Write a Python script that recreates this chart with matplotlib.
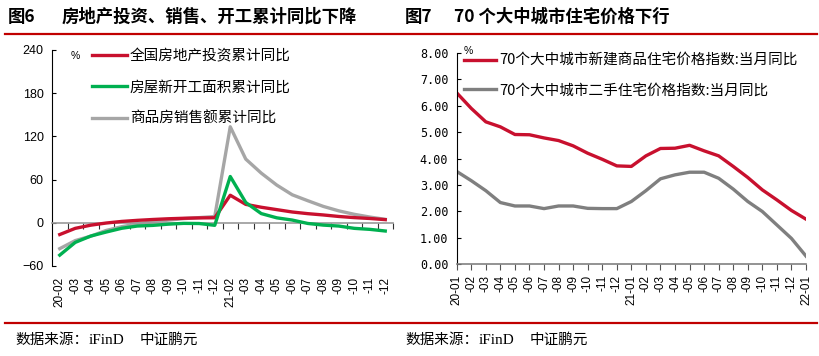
import matplotlib.pyplot as plt
from matplotlib.lines import Line2D

plt.rcParams['font.family'] = ['Liberation Sans', 'Noto Sans CJK SC']
CJK = ['Noto Sans CJK SC', 'DejaVu Sans']

# Figure 6: cumulative YoY, %
months_6 = ["20-02", "-03", "-04", "-05", "-06", "-07", "-08", "-09", "-10", "-11", "-12",
            "21-02", "-03", "-04", "-05", "-06", "-07", "-08", "-09", "-10", "-11", "-12"]
invest = [-16.3, -7.7, -3.3, -0.3, 1.9, 3.4, 4.6, 5.6, 6.3, 6.8, 7.0,
          38.3, 25.6, 21.6, 18.3, 15.0, 12.7, 10.9, 8.8, 7.2, 6.0, 4.4]
new_starts = [-44.9, -27.2, -18.4, -12.8, -7.6, -4.5, -3.6, -1.9, -0.8, -1.0, -3.5,
              64.3, 28.2, 12.8, 6.9, 3.8, -0.9, -3.2, -4.5, -7.7, -9.1, -11.4]
sales = [-35.9, -24.7, -18.6, -10.6, -5.4, -1.6, 1.6, 3.7, 5.8, 7.2, 8.7,
         133.4, 88.5, 69.0, 52.4, 38.9, 30.7, 22.8, 16.6, 11.8, 8.0, 4.8]

# Figure 7: 70-city price index YoY, %
months_7 = ["20-01", "-02", "-03", "-04", "-05", "-06", "-07", "-08", "-09", "-10", "-11", "-12",
            "21-01", "-02", "-03", "-04", "-05", "-06", "-07", "-08", "-09", "-10", "-11", "-12",
            "22-01"]
new_home = [6.49, 5.9, 5.39, 5.2, 4.91, 4.9, 4.78, 4.68, 4.48, 4.2, 3.97, 3.72,
            3.7, 4.1, 4.38, 4.39, 4.5, 4.29, 4.1, 3.7, 3.28, 2.81, 2.43, 2.03, 1.7]
second_hand = [3.51, 3.16, 2.78, 2.33, 2.2, 2.2, 2.1, 2.2, 2.2, 2.11, 2.1, 2.1,
               2.37, 2.78, 3.23, 3.38, 3.48, 3.48, 3.25, 2.84, 2.37, 1.99, 1.48, 0.97, 0.3]

RED = "#C8102E"
GREEN = "#00B050"
LGRAY = "#A6A6A6"
DGRAY = "#7F7F7F"

W, H = 819, 356
fig = plt.figure(figsize=(W / 100, H / 100), dpi=100)


def box(x0, y0, x1, y1):
    return [x0 / W, 1 - y1 / H, (x1 - x0) / W, (y1 - y0) / H]


# titles and separators
fig.text(8 / W, 1 - 17 / H, "图6", fontsize=12.5, fontweight="bold", family=CJK, va="center")
fig.text(62 / W, 1 - 17 / H, "房地产投资、销售、开工累计同比下降", fontsize=12.5,
         fontweight="bold", family=CJK, va="center")
fig.text(405 / W, 1 - 17 / H, "图7", fontsize=12.5, fontweight="bold", family=CJK, va="center")
fig.text(454 / W, 1 - 17 / H, "70 个大中城市住宅价格下行", fontsize=12.5,
         fontweight="bold", family=CJK, va="center")
for yy in (34, 323):
    fig.add_artist(Line2D([5 / W, 817 / W], [1 - yy / H, 1 - yy / H],
                          color="#C00000", lw=1.6))
for x0 in (15, 405):
    fig.text(x0 / W, 1 - 340 / H, "数据来源：", fontsize=10.5, family=CJK, va="center")
    fig.text((x0 + 74) / W, 1 - 340 / H, "iFinD", fontsize=11, family="Liberation Serif",
             va="center")
    fig.text((x0 + 125) / W, 1 - 340 / H, "中证鹏元", fontsize=10.5, family=CJK, va="center")

# ---- left chart ----
ax1 = fig.add_axes(box(52, 50, 393, 266))
x6 = range(len(months_6))
ax1.plot(x6, invest, color=RED, lw=2.4, label="全国房地产投资累计同比", zorder=3)
ax1.plot(x6, new_starts, color=GREEN, lw=2.4, label="房屋新开工面积累计同比", zorder=3)
ax1.plot(x6, sales, color=LGRAY, lw=2.4, label="商品房销售额累计同比", zorder=2)
ax1.set_xlim(-0.5, len(months_6) - 0.5)
ax1.set_ylim(-60, 240)
ax1.set_yticks([-60, 0, 60, 120, 180, 240])
ax1.tick_params(axis="y", direction="in", length=3, labelsize=9, pad=6)
for s in ("top", "right"):
    ax1.spines[s].set_visible(False)
ax1.spines["bottom"].set_position(("data", 0))
ax1.spines["bottom"].set_color("#999999")
ax1.spines["bottom"].set_linewidth(1.2)
ax1.set_xticks([i + 0.5 for i in x6])
ax1.set_xticklabels([])
ax1.tick_params(axis="x", direction="out", length=4, color="#333333")
sec1 = ax1.secondary_xaxis("bottom")
sec1.set_xticks(list(x6))
sec1.set_xticklabels(months_6, rotation=90, fontsize=8.5)
sec1.tick_params(length=0, pad=8)
sec1.spines["bottom"].set_visible(False)
ax1.text(0.055, 0.97, "%", transform=ax1.transAxes, fontsize=7.5, va="center")
ax1.legend(loc="upper left", bbox_to_anchor=(0.117, 1.005), frameon=False,
           prop={"family": CJK, "size": 10.5}, handlelength=2.4, handletextpad=0.2,
           labelspacing=1.2, borderpad=0, borderaxespad=0)

# ---- right chart ----
ax2 = fig.add_axes(box(456.7, 53, 806, 264))
x7 = range(len(months_7))
ax2.plot(x7, new_home, color=RED, lw=2.4, label="70个大中城市新建商品住宅价格指数:当月同比")
ax2.plot(x7, second_hand, color=DGRAY, lw=2.4, label="70个大中城市二手住宅价格指数:当月同比")
ax2.set_xlim(0, len(months_7) - 1)
ax2.set_ylim(0, 8)
ax2.set_yticks(range(9))
ax2.set_yticklabels([f"{v:.2f}" for v in range(9)], family="DejaVu Sans Mono", fontsize=8.5)
ax2.tick_params(axis="y", direction="in", length=3, pad=6)
for s in ("top", "right"):
    ax2.spines[s].set_visible(False)
ax2.spines["bottom"].set_color("#808080")
ax2.spines["bottom"].set_linewidth(1.2)
ax2.set_xticks(list(x7))
ax2.set_xticklabels(months_7, rotation=90, fontsize=8.5)
ax2.tick_params(axis="x", direction="out", length=4, color="#555555", pad=4)
ax2.text(0.02, 1.01, "%", transform=ax2.transAxes, fontsize=7.5, va="center")
ax2.legend(loc="upper left", bbox_to_anchor=(0.021, 0.995), frameon=False,
           prop={"family": CJK, "size": 10.5}, handlelength=2.2, handletextpad=0.2,
           labelspacing=1.05, borderpad=0, borderaxespad=0)

fig.savefig("out.png", dpi=100)
